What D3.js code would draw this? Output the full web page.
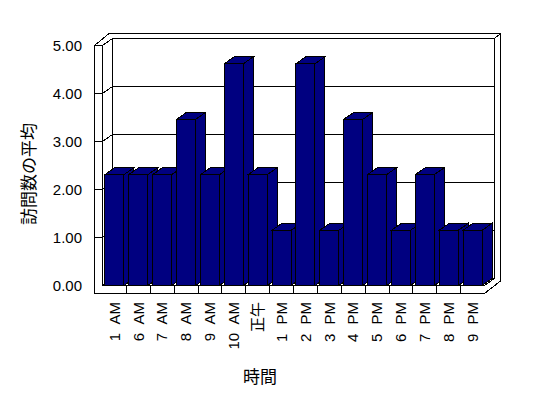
<!DOCTYPE html>
<html>
<head>
<meta charset="utf-8">
<script src="https://cdn.jsdelivr.net/npm/d3@7"></script>
<style>
  body { margin: 0; background: #fff; }
  text { font-family: "Liberation Sans", Arial, sans-serif; }
  .jp { font-family: "Noto Sans CJK JP", sans-serif; }
</style>
</head>
<body>
<script>
const cats = ['1 AM', '6 AM', '7 AM', '8 AM', '9 AM', '10 AM', '正午', '1 PM',
  '2 PM', '3 PM', '4 PM', '5 PM', '6 PM', '7 PM', '8 PM', '9 PM']
const vals = [2.31, 2.31, 2.31, 3.46, 2.31, 4.62, 2.31, 1.15,
  4.62, 1.15, 3.46, 2.31, 1.15, 2.31, 1.15, 1.15]
const yTicks = [0, 1, 2, 3, 4, 5]
const yTitle = '訪問数の平均'
const xTitle = '時間'

const W = 548, H = 398
const wallL = 94.5        // left wall outer edge
const left = 102.5        // plot front left
const right = 484.5       // plot front right
const floorB = 293.5      // floor slab bottom
const dx = 10, dy = -7    // depth of the plot
const navy = '#000080'

const svg = d3.select('body').append('svg')
  .attr('width', W)
  .attr('height', H)

const y = d3.scaleLinear().domain([0, 5]).range([285.5, 45.5])
const xCat = d3.scaleBand().domain(cats).range([left, right])
const x = d3.scaleBand().domain(cats).range([left, right])
  .paddingInner(0.2).paddingOuter(0.1)

const frame = svg.append('g')
  .attr('fill', 'white')
  .attr('stroke', 'black')
  .attr('shape-rendering', 'crispEdges')

const pts = a => a.map(p => p.join(',')).join(' ')
const y0 = y(0), y5 = y(5)

// outer silhouette of walls + floor
frame.append('polygon').attr('points', pts([
  [wallL, floorB], [wallL, y5], [109, y5 - 12], [500.5, y5 - 12],
  [500.5, y0 - 4.5], [right, floorB]
]))
// back wall face
frame.append('polygon').attr('points', pts([
  [left + dx, y5 + dy], [right + dx, y5 + dy], [right + dx, y0 + dy], [left + dx, y0 + dy]
]))
// left wall front face and top
frame.append('polyline').attr('fill', 'none').attr('points', pts([
  [wallL, y5], [left, y5], [left + dx, y5 + dy]
]))
frame.append('line')
  .attr('x1', left).attr('y1', y5).attr('x2', left).attr('y2', y0)
frame.append('line')
  .attr('x1', left).attr('y1', y0).attr('x2', left + dx).attr('y2', y0 + dy)
// back wall top right corner
frame.append('line')
  .attr('x1', right + dx).attr('y1', y5 + dy).attr('x2', 500.5).attr('y2', y5 - 12)
// floor top front edge and right end
frame.append('polyline').attr('fill', 'none').attr('points', pts([
  [left, y0], [right, y0], [right + dx, y0 + dy]
]))

// gridlines: tick across wall front, diagonal on inner face, line on back wall
const grid = svg.append('g')
  .attr('stroke', 'black')
  .attr('fill', 'none')
  .attr('shape-rendering', 'crispEdges')

grid.selectAll('polyline')
  .data(yTicks.filter(d => d > 0 && d < 5))
  .enter().append('polyline')
  .attr('points', d => pts([
    [wallL, y(d)], [left, y(d)], [left + dx, y(d) + dy], [right + dx, y(d) + dy]
  ]))

// category ticks on the floor front
grid.selectAll('line.cat')
  .data(cats.slice(1))
  .enter().append('line')
  .classed('cat', true)
  .attr('x1', d => xCat(d))
  .attr('x2', d => xCat(d))
  .attr('y1', y0)
  .attr('y2', floorB)

// bars, left to right
const bars = svg.append('g')
  .attr('fill', navy)
  .attr('stroke', 'black')
  .attr('shape-rendering', 'crispEdges')

cats.forEach((c, i) => {
  const x0 = x(c), x1 = x(c) + x.bandwidth()
  const top = y(vals[i])
  const b = bars.append('g')
  b.append('polygon').attr('points', pts([
    [x1, top], [x1 + dx, top + dy], [x1 + dx, y0 + dy], [x1, y0]
  ]))
  b.append('polygon').attr('points', pts([
    [x0, top], [x0 + dx, top + dy], [x1 + dx, top + dy], [x1, top]
  ]))
  b.append('rect')
    .attr('x', x0).attr('y', top)
    .attr('width', x1 - x0).attr('height', y0 - top)
})

// y tick labels
svg.append('g').selectAll('text')
  .data(yTicks)
  .enter().append('text')
  .attr('x', 82)
  .attr('y', d => y(d))
  .attr('dy', '0.35em')
  .attr('text-anchor', 'end')
  .attr('font-size', 15)
  .text(d => d3.format('.2f')(d))

// x labels, rotated
svg.append('g').selectAll('text')
  .data(cats)
  .enter().append('text')
  .attr('class', d => /[^\x00-\x7f]/.test(d) ? 'jp' : null)
  .attr('transform', d => `translate(${xCat(d) + xCat.bandwidth() / 2},302) rotate(-90)`)
  .attr('dy', '0.35em')
  .attr('text-anchor', 'end')
  .attr('font-size', 15)
  .style('word-spacing', '5px')
  .text(d => d)

svg.append('text')
  .attr('class', 'jp')
  .attr('transform', 'translate(29,174) rotate(-90)')
  .attr('text-anchor', 'middle')
  .attr('dy', '0.35em')
  .attr('font-size', 17)
  .text(yTitle)

svg.append('text')
  .attr('class', 'jp')
  .attr('x', 260)
  .attr('y', 377)
  .attr('text-anchor', 'middle')
  .attr('dy', '0.35em')
  .attr('font-size', 17)
  .text(xTitle)
</script>
</body>
</html>
